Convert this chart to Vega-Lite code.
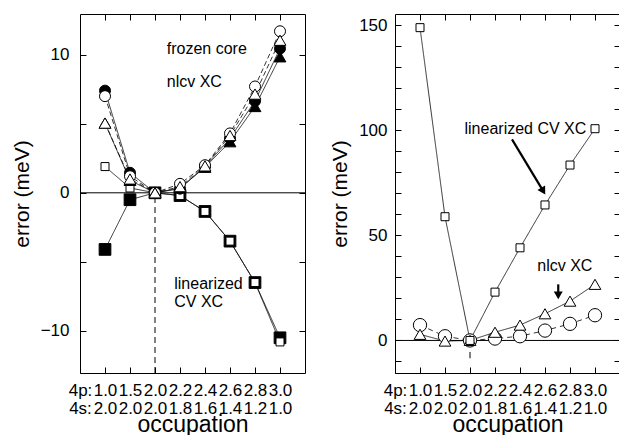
{
  "$schema": "https://vega.github.io/schema/vega-lite/v6.json",
  "padding": {"left": 10, "top": 13, "right": 0, "bottom": 0},
  "background": "white",
  "config": {
    "font": "Liberation Sans",
    "view": {"stroke": "black", "strokeWidth": 1},
    "axis": {"domain": false, "grid": false, "tickColor": "black", "tickWidth": 1, "tickSize": -6, "labelColor": "black", "titleColor": "black", "labelFont": "Liberation Sans", "titleFont": "Liberation Sans", "titleFontWeight": "normal", "labelFontSize": 17}
  },
  "spacing": 90,
  "bounds": "flush",
  "datasets": {
    "left": [
      {"series": "fc-square", "x": 0, "y": -4.1}, {"series": "fc-square", "x": 1, "y": -0.5}, {"series": "fc-square", "x": 2, "y": 0}, {"series": "fc-square", "x": 3, "y": -0.2}, {"series": "fc-square", "x": 4, "y": -1.35}, {"series": "fc-square", "x": 5, "y": -3.5}, {"series": "fc-square", "x": 6, "y": -6.5}, {"series": "fc-square", "x": 7, "y": -10.5},
      {"series": "square", "x": 0, "y": 1.9}, {"series": "square", "x": 1, "y": 0.35}, {"series": "square", "x": 2, "y": 0}, {"series": "square", "x": 3, "y": -0.2}, {"series": "square", "x": 4, "y": -1.35}, {"series": "square", "x": 5, "y": -3.5}, {"series": "square", "x": 6, "y": -6.5}, {"series": "square", "x": 7, "y": -10.8},
      {"series": "fc-circle", "x": 0, "y": 7.4}, {"series": "fc-circle", "x": 1, "y": 1.45}, {"series": "fc-circle", "x": 2, "y": 0}, {"series": "fc-circle", "x": 3, "y": 0.3}, {"series": "fc-circle", "x": 4, "y": 1.9}, {"series": "fc-circle", "x": 5, "y": 3.95}, {"series": "fc-circle", "x": 6, "y": 6.65}, {"series": "fc-circle", "x": 7, "y": 10.45},
      {"series": "circle", "x": 0, "y": 7.0}, {"series": "circle", "x": 1, "y": 1.2}, {"series": "circle", "x": 2, "y": 0}, {"series": "circle", "x": 3, "y": 0.65}, {"series": "circle", "x": 4, "y": 2.0}, {"series": "circle", "x": 5, "y": 4.3}, {"series": "circle", "x": 6, "y": 7.7}, {"series": "circle", "x": 7, "y": 11.7},
      {"series": "fc-triangle", "x": 0, "y": 5.05}, {"series": "fc-triangle", "x": 1, "y": 0.9}, {"series": "fc-triangle", "x": 2, "y": 0}, {"series": "fc-triangle", "x": 3, "y": 0.35}, {"series": "fc-triangle", "x": 4, "y": 1.85}, {"series": "fc-triangle", "x": 5, "y": 3.7}, {"series": "fc-triangle", "x": 6, "y": 6.25}, {"series": "fc-triangle", "x": 7, "y": 9.85},
      {"series": "triangle", "x": 0, "y": 5.05}, {"series": "triangle", "x": 1, "y": 1.0}, {"series": "triangle", "x": 2, "y": 0}, {"series": "triangle", "x": 3, "y": 0.45}, {"series": "triangle", "x": 4, "y": 1.95}, {"series": "triangle", "x": 5, "y": 4.15}, {"series": "triangle", "x": 6, "y": 7.15}, {"series": "triangle", "x": 7, "y": 11.05}
    ],
    "right": [
      {"series": "circle", "x": 0, "y": 7.3}, {"series": "circle", "x": 1, "y": 2.0}, {"series": "circle", "x": 2, "y": 0}, {"series": "circle", "x": 3, "y": 0.9}, {"series": "circle", "x": 4, "y": 2.0}, {"series": "circle", "x": 5, "y": 4.7}, {"series": "circle", "x": 6, "y": 7.9}, {"series": "circle", "x": 7, "y": 12.0},
      {"series": "triangle", "x": 0, "y": 2.9}, {"series": "triangle", "x": 1, "y": -0.3}, {"series": "triangle", "x": 2, "y": 0}, {"series": "triangle", "x": 3, "y": 3.9}, {"series": "triangle", "x": 4, "y": 7.3}, {"series": "triangle", "x": 5, "y": 12.7}, {"series": "triangle", "x": 6, "y": 18.7}, {"series": "triangle", "x": 7, "y": 26.7},
      {"series": "square", "x": 0, "y": 148.9}, {"series": "square", "x": 1, "y": 58.9}, {"series": "square", "x": 2, "y": 0}, {"series": "square", "x": 3, "y": 23.0}, {"series": "square", "x": 4, "y": 44.1}, {"series": "square", "x": 5, "y": 64.5}, {"series": "square", "x": 6, "y": 83.5}, {"series": "square", "x": 7, "y": 100.8}
    ]
  },
  "hconcat": [
    {
      "width": 225,
      "height": 359,
      "resolve": {"axis": {"x": "independent", "y": "independent"}},
      "layer": [
        {
          "data": {"values": [{"x": -1, "x2": 8, "y": 0}]},
          "mark": {"type": "rule", "color": "black", "strokeWidth": 1},
          "encoding": {
            "x": {"field": "x", "type": "quantitative", "scale": {"domain": [-1, 8], "nice": false, "zero": false},
              "axis": {"orient": "bottom", "values": [-1, 0, 1, 2, 3, 4, 5, 6, 7], "labelExpr": "datum.value < -0.5 ? ['4p:', '4s:'] : [['1.0','2.0'],['1.5','2.0'],['2.0','2.0'],['2.2','1.8'],['2.4','1.6'],['2.6','1.4'],['2.8','1.2'],['3.0','1.0']][datum.value]", "labelPadding": 15.6, "labelLineHeight": 18, "labelOverlap": false, "labelFlush": false, "labelBound": false, "title": "occupation", "titleFontSize": 23, "titlePadding": -3}},
            "x2": {"field": "x2"},
            "y": {"field": "y", "type": "quantitative", "scale": {"domain": [-13.05, 12.95], "nice": false, "zero": false},
              "axis": {"orient": "left", "values": [-10, -5, 0, 5, 10], "labelExpr": "datum.value % 10 === 0 ? datum.label : ''", "labelPadding": 17, "title": "error (meV)", "titleFontSize": 21, "titlePadding": 8}}
          }
        },
        {
          "data": {"values": [{"x": 2, "y": -13.05, "y2": 0}]},
          "mark": {"type": "rule", "color": "black", "strokeWidth": 1, "strokeDash": [6, 4]},
          "encoding": {
            "x": {"field": "x", "type": "quantitative", "scale": {"domain": [-1, 8], "nice": false, "zero": false},
              "axis": {"orient": "top", "values": [0, 1, 2, 3, 4, 5, 6, 7], "labels": false, "title": null}},
            "y": {"field": "y", "type": "quantitative", "scale": {"domain": [-13.05, 12.95], "nice": false, "zero": false},
              "axis": {"orient": "right", "values": [-10, -5, 0, 5, 10], "labels": false, "title": null}},
            "y2": {"field": "y2"}
          }
        },
        {
          "data": {"name": "left"},
          "mark": {"type": "line", "color": "black", "strokeWidth": 0.8},
          "encoding": {
            "x": {"field": "x", "type": "quantitative", "scale": {"domain": [-1, 8], "nice": false, "zero": false}, "axis": null},
            "y": {"field": "y", "type": "quantitative", "scale": {"domain": [-13.05, 12.95], "nice": false, "zero": false}, "axis": null},
            "strokeDash": {"field": "series", "type": "nominal", "legend": null,
              "scale": {"domain": ["fc-square", "square", "fc-circle", "circle", "fc-triangle", "triangle"], "range": [[1, 0], [1, 0], [1, 0], [5, 3], [1, 0], [5, 3]]}}
          }
        },
        {
          "data": {"name": "left"},
          "mark": {"type": "point", "filled": true, "stroke": "black", "strokeWidth": 1, "opacity": 1},
          "encoding": {
            "x": {"field": "x", "type": "quantitative", "scale": {"domain": [-1, 8], "nice": false, "zero": false}, "axis": null},
            "y": {"field": "y", "type": "quantitative", "scale": {"domain": [-13.05, 12.95], "nice": false, "zero": false}, "axis": null},
            "shape": {"field": "series", "type": "nominal", "legend": null,
              "scale": {"domain": ["fc-square", "square", "fc-circle", "circle", "fc-triangle", "triangle"], "range": ["square", "square", "circle", "circle", "triangle-up", "triangle-up"]}},
            "fill": {"field": "series", "type": "nominal", "legend": null,
              "scale": {"domain": ["fc-square", "square", "fc-circle", "circle", "fc-triangle", "triangle"], "range": ["black", "white", "black", "white", "black", "white"]}},
            "size": {"field": "series", "type": "nominal", "legend": null,
              "scale": {"type": "ordinal", "domain": ["fc-square", "square", "fc-circle", "circle", "fc-triangle", "triangle"], "range": [137, 64, 121, 121, 140, 140]}}
          }
        },
        {
          "data": {"values": [
            {"x": 2.47, "y": 10.4, "label": "frozen core"},
            {"x": 2.47, "y": 8.05, "label": "nlcv XC"},
            {"x": 2.77, "y": -6.6, "label": "linearized"},
            {"x": 2.77, "y": -7.9, "label": "CV XC"}
          ]},
          "mark": {"type": "text", "align": "left", "baseline": "middle", "fontSize": 16, "color": "black", "font": "Liberation Sans"},
          "encoding": {
            "x": {"field": "x", "type": "quantitative", "scale": {"domain": [-1, 8], "nice": false, "zero": false}, "axis": null},
            "y": {"field": "y", "type": "quantitative", "scale": {"domain": [-13.05, 12.95], "nice": false, "zero": false}, "axis": null},
            "text": {"field": "label"}
          }
        }
      ]
    },
    {
      "width": 225,
      "height": 359,
      "resolve": {"axis": {"x": "independent", "y": "independent"}},
      "layer": [
        {
          "data": {"values": [{"x": -1, "x2": 8, "y": 0}]},
          "mark": {"type": "rule", "color": "black", "strokeWidth": 1},
          "encoding": {
            "x": {"field": "x", "type": "quantitative", "scale": {"domain": [-1, 8], "nice": false, "zero": false},
              "axis": {"orient": "bottom", "values": [-1, 0, 1, 2, 3, 4, 5, 6, 7], "labelExpr": "datum.value < -0.5 ? ['4p:', '4s:'] : [['1.0','2.0'],['1.5','2.0'],['2.0','2.0'],['2.2','1.8'],['2.4','1.6'],['2.6','1.4'],['2.8','1.2'],['3.0','1.0']][datum.value]", "labelPadding": 15.6, "labelLineHeight": 18, "labelOverlap": false, "labelFlush": false, "labelBound": false, "title": "occupation", "titleFontSize": 23, "titlePadding": -3}},
            "x2": {"field": "x2"},
            "y": {"field": "y", "type": "quantitative", "scale": {"domain": [-15.5, 155.4], "nice": false, "zero": false},
              "axis": {"orient": "left", "values": [-10, 0, 10, 20, 30, 40, 50, 60, 70, 80, 90, 100, 110, 120, 130, 140, 150], "labelExpr": "datum.value % 50 === 0 ? datum.label : ''", "labelPadding": 14, "title": "error (meV)", "titleFontSize": 21, "titlePadding": 8}}
          }
        },
        {
          "data": {"values": [{"x": 2, "y": -8.5, "y2": -5.5}]},
          "mark": {"type": "rule", "color": "black", "strokeWidth": 1},
          "encoding": {
            "x": {"field": "x", "type": "quantitative", "scale": {"domain": [-1, 8], "nice": false, "zero": false},
              "axis": {"orient": "top", "values": [0, 1, 2, 3, 4, 5, 6, 7], "labels": false, "title": null}},
            "y": {"field": "y", "type": "quantitative", "scale": {"domain": [-15.5, 155.4], "nice": false, "zero": false},
              "axis": {"orient": "right", "values": [-10, 0, 10, 20, 30, 40, 50, 60, 70, 80, 90, 100, 110, 120, 130, 140, 150], "labels": false, "title": null}},
            "y2": {"field": "y2"}
          }
        },
        {
          "data": {"name": "right"},
          "mark": {"type": "line", "color": "black", "strokeWidth": 0.8},
          "encoding": {
            "x": {"field": "x", "type": "quantitative", "scale": {"domain": [-1, 8], "nice": false, "zero": false}, "axis": null},
            "y": {"field": "y", "type": "quantitative", "scale": {"domain": [-15.5, 155.4], "nice": false, "zero": false}, "axis": null},
            "strokeDash": {"field": "series", "type": "nominal", "legend": null,
              "scale": {"domain": ["circle", "triangle", "square"], "range": [[5, 4], [1, 0], [1, 0]]}}
          }
        },
        {
          "data": {"name": "right"},
          "mark": {"type": "point", "filled": true, "stroke": "black", "strokeWidth": 1, "opacity": 1},
          "encoding": {
            "x": {"field": "x", "type": "quantitative", "scale": {"domain": [-1, 8], "nice": false, "zero": false}, "axis": null},
            "y": {"field": "y", "type": "quantitative", "scale": {"domain": [-15.5, 155.4], "nice": false, "zero": false}, "axis": null},
            "shape": {"field": "series", "type": "nominal", "legend": null,
              "scale": {"domain": ["circle", "triangle", "square"], "range": ["circle", "triangle-up", "square"]}},
            "fill": {"field": "series", "type": "nominal", "legend": null,
              "scale": {"domain": ["circle", "triangle", "square"], "range": ["white", "white", "white"]}},
            "size": {"field": "series", "type": "nominal", "legend": null,
              "scale": {"type": "ordinal", "domain": ["circle", "triangle", "square"], "range": [177, 137, 64]}}
          }
        },
        {
          "data": {"values": [
            {"x": 3.68, "y": 95.7, "x2": 4.93, "y2": 71.1},
            {"x": 5.53, "y": 26.7, "x2": 5.53, "y2": 21.4}
          ]},
          "mark": {"type": "rule", "color": "black", "strokeWidth": 2.2},
          "encoding": {
            "x": {"field": "x", "type": "quantitative", "scale": {"domain": [-1, 8], "nice": false, "zero": false}, "axis": null},
            "y": {"field": "y", "type": "quantitative", "scale": {"domain": [-15.5, 155.4], "nice": false, "zero": false}, "axis": null},
            "x2": {"field": "x2"},
            "y2": {"field": "y2"}
          }
        },
        {
          "data": {"values": [{"x": 4.93, "y": 71.1}]},
          "mark": {"type": "point", "shape": "triangle-up", "angle": 149, "size": 80, "filled": true, "color": "black", "opacity": 1},
          "encoding": {
            "x": {"field": "x", "type": "quantitative", "scale": {"domain": [-1, 8], "nice": false, "zero": false}, "axis": null},
            "y": {"field": "y", "type": "quantitative", "scale": {"domain": [-15.5, 155.4], "nice": false, "zero": false}, "axis": null}
          }
        },
        {
          "data": {"values": [{"x": 5.53, "y": 21.4}]},
          "mark": {"type": "point", "shape": "triangle-up", "angle": 180, "size": 80, "filled": true, "color": "black", "opacity": 1},
          "encoding": {
            "x": {"field": "x", "type": "quantitative", "scale": {"domain": [-1, 8], "nice": false, "zero": false}, "axis": null},
            "y": {"field": "y", "type": "quantitative", "scale": {"domain": [-15.5, 155.4], "nice": false, "zero": false}, "axis": null}
          }
        },
        {
          "data": {"values": [
            {"x": 1.78, "y": 100.8, "label": "linearized CV XC"},
            {"x": 4.69, "y": 35.4, "label": "nlcv XC"}
          ]},
          "mark": {"type": "text", "align": "left", "baseline": "middle", "fontSize": 16, "color": "black", "font": "Liberation Sans"},
          "encoding": {
            "x": {"field": "x", "type": "quantitative", "scale": {"domain": [-1, 8], "nice": false, "zero": false}, "axis": null},
            "y": {"field": "y", "type": "quantitative", "scale": {"domain": [-15.5, 155.4], "nice": false, "zero": false}, "axis": null},
            "text": {"field": "label"}
          }
        }
      ]
    }
  ],
  "resolve": {"scale": {"shape": "independent", "fill": "independent", "size": "independent", "strokeDash": "independent"}}
}
